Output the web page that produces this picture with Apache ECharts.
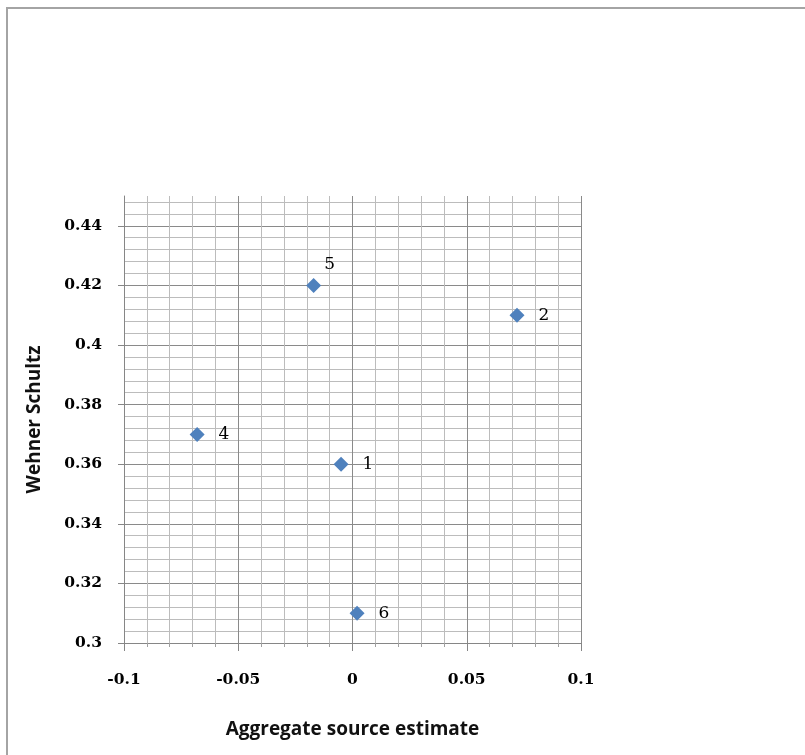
<!DOCTYPE html>
<html>
<head>
<meta charset="utf-8">
<script src="https://cdn.jsdelivr.net/npm/echarts@6/dist/echarts.min.js"></script>
<style>
  html, body { margin: 0; padding: 0; background: #fff; }
  .frame {
    position: absolute; left: 6px; top: 7px; right: -10px; bottom: -10px;
    border-top: 2px solid #a4a4a4; border-left: 2px solid #a4a4a4;
  }
  #chart { position: absolute; left: 0; top: 0; width: 805px; height: 755px; }
</style>
</head>
<body>
<div class="frame"></div>
<div id="chart"></div>
<script>
const pointNames = ['1', '2', '4', '5', '6']
const xValues = [-0.005, 0.072, -0.068, -0.017, 0.002]
const yValues = [0.36, 0.41, 0.37, 0.42, 0.31]
const xTicks = [-0.1, -0.05, 0, 0.05, 0.1]
const yTicks = [0.3, 0.32, 0.34, 0.36, 0.38, 0.4, 0.42, 0.44]

const chart = echarts.init(document.getElementById('chart'))

const tickFont = { fontFamily: 'DejaVu Serif', fontWeight: 'bold', fontSize: 15.5, color: '#000' }
const nameFont = { fontFamily: 'Open Sans', fontWeight: 'bold', fontSize: 19, color: '#111' }

const points = pointNames.map((n, i) => {
  const item = { name: n, value: [xValues[i], yValues[i]] }
  if (n === '5') item.label = { position: [18, -22] }
  return item
})

const option = {
  animation: false,
  grid: { left: 124, top: 196, right: 224, bottom: 112 },
  xAxis: {
    type: 'value',
    min: xTicks[0],
    max: xTicks[xTicks.length - 1],
    interval: 0.05,
    name: 'Aggregate source estimate',
    nameLocation: 'middle',
    nameGap: 77,
    nameTextStyle: nameFont,
    axisLine: { show: true, onZero: false, lineStyle: { color: '#868686', width: 1 } },
    axisTick: { show: true, length: 8, lineStyle: { color: '#868686' } },
    minorTick: { show: true, splitNumber: 5, length: 4, lineStyle: { color: '#a0a0a0' } },
    axisLabel: Object.assign({ margin: 29, formatter: v => String(+v.toFixed(2)) }, tickFont),
    splitLine: { show: true, lineStyle: { color: '#8a8a8a', width: 1 } },
    minorSplitLine: { show: true, lineStyle: { color: '#bcbcbc', width: 1 } }
  },
  yAxis: [
    {
      type: 'value',
      min: 0.3,
      max: 0.45,
      interval: 0.004,
      axisLine: { show: false },
      axisTick: { show: false },
      axisLabel: { show: false },
      splitLine: {
        show: true,
        showMaxLine: false,
        lineStyle: { color: ['#8a8a8a', '#bcbcbc', '#bcbcbc', '#bcbcbc', '#bcbcbc'], width: 1 }
      }
    },
    {
      type: 'value',
      position: 'left',
      min: 0.3,
      max: 0.45,
      interval: 0.02,
      name: 'Wehner Schultz',
      nameLocation: 'middle',
      nameGap: 80,
      nameTextStyle: nameFont,
      axisLine: { show: true, lineStyle: { color: '#868686', width: 1 } },
      axisTick: { show: true, length: 6, lineStyle: { color: '#868686' } },
      axisLabel: Object.assign({
        margin: 22,
        showMaxLabel: false,
        formatter: v => String(+v.toFixed(2))
      }, tickFont),
      splitLine: { show: false }
    }
  ],
  series: [
    {
      type: 'scatter',
      yAxisIndex: 0,
      symbol: 'diamond',
      symbolSize: 15,
      itemStyle: { color: '#4f81bd', opacity: 1 },
      label: {
        show: true,
        position: 'right',
        distance: 14,
        formatter: p => p.name,
        fontFamily: 'DejaVu Serif',
        fontSize: 17,
        color: '#000'
      },
      data: points
    }
  ]
}

chart.setOption(option)
</script>
</body>
</html>
